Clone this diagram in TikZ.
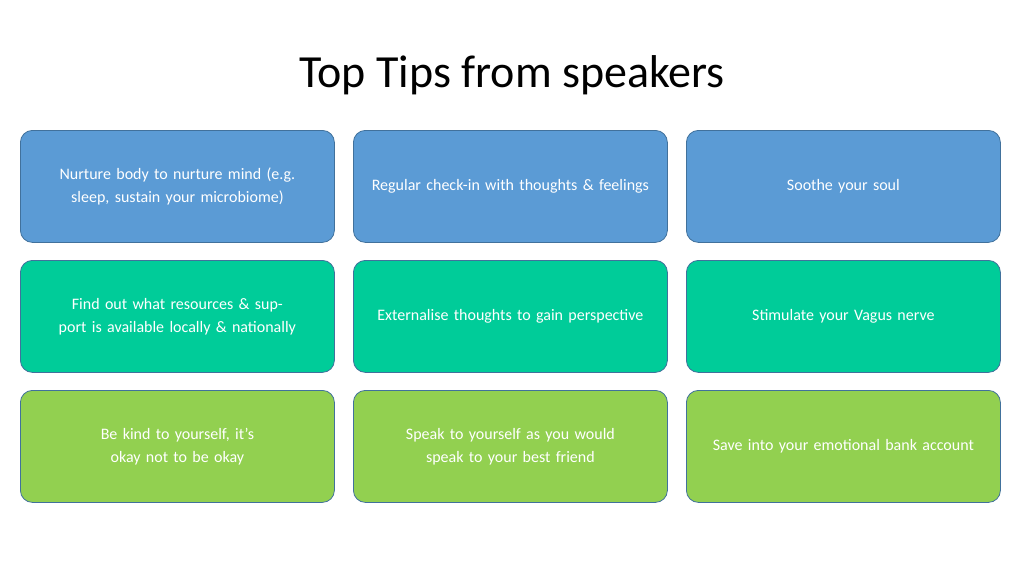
\documentclass[tikz,border=0pt]{standalone}
\usepackage{fontspec}
\setmainfont{Carlito}
\definecolor{tipblue}{HTML}{5B9BD5}
\definecolor{tipteal}{HTML}{00CC99}
\definecolor{tiplime}{HTML}{92D050}
\definecolor{tipedge}{HTML}{41719C}
\begin{document}
\begin{tikzpicture}[x=1pt, y=-1pt, font=\fontsize{16}{23}\selectfont,
  tipbox/.style={draw=tipedge, rounded corners=12pt, minimum width=314pt, minimum height=112pt,
    text width=290pt, align=center, text=white, anchor=north west, line width=0.8pt}]

        % Page
        \useasboundingbox (0,0) rectangle (1024,576);
        \node (title) at (512,75) {\fontsize{46}{50}\selectfont Top Tips from speakers};

        % Row 1
        \node[tipbox, fill=tipblue] (nurture) at (20,130) {Nurture body to nurture mind (e.g. sleep, sustain your microbiome)};
        \node[tipbox, fill=tipblue] (checkin) at (353,130) {Regular check-in with thoughts \& feelings};
        \node[tipbox, fill=tipblue] (soothe) at (686,130) {Soothe your soul};

        % Row 2
        \node[tipbox, fill=tipteal] (resources) at (20,260) {Find out what resources \& support is available locally \& nationally};
        \node[tipbox, fill=tipteal] (externalise) at (353,260) {Externalise thoughts to gain perspective};
        \node[tipbox, fill=tipteal] (vagus) at (686,260) {Stimulate your Vagus nerve};

        % Row 3
        \node[tipbox, fill=tiplime] (kind) at (20,390) {Be kind to yourself, it’s okay not to be okay};
        \node[tipbox, fill=tiplime] (speak) at (353,390) {Speak to yourself as you would speak to your best friend};
        \node[tipbox, fill=tiplime] (save) at (686,390) {Save into your emotional bank account};

    \end{tikzpicture}
\end{document}
